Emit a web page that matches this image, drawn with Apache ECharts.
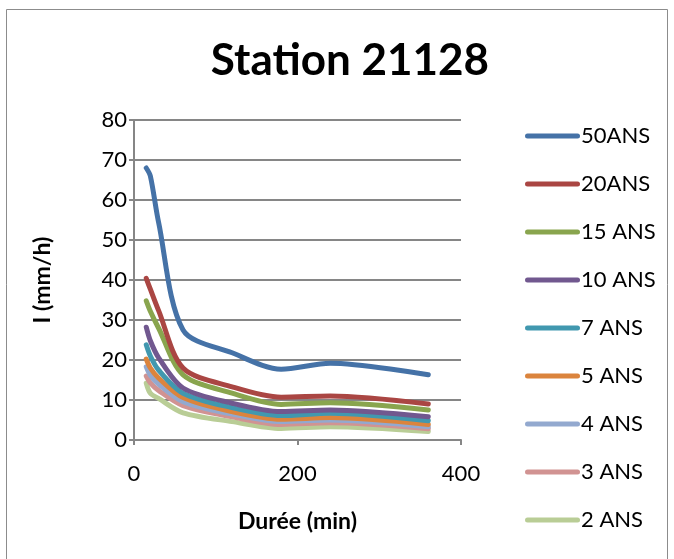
<!DOCTYPE html>
<html>
<head>
<meta charset="utf-8">
<script src="https://cdn.jsdelivr.net/npm/echarts@6/dist/echarts.min.js"></script>
<style>
html,body{margin:0;padding:0;background:#fff;}
#c{width:674px;height:559px;}
</style>
</head>
<body>
<div id="c"></div>
<script>
const durations = [15, 20, 30, 60, 120, 180, 240, 360];
const seriesNames = ['50ANS', '20ANS', '15 ANS', '10 ANS', '7 ANS', '5 ANS', '4 ANS', '3 ANS', '2 ANS'];
const s50 = [68.0, 66.0, 54.5, 27.5, 21.8, 17.7, 19.2, 16.3];
const s20 = [40.4, 37.7, 32.4, 18.0, 13.3, 10.7, 11.0, 9.0];
const s15 = [34.8, 32.2, 28.0, 16.3, 11.7, 8.9, 9.3, 7.5];
const s10 = [28.2, 24.8, 20.6, 13.0, 9.2, 7.1, 7.5, 5.8];
const s7 = [23.8, 21.0, 17.5, 11.7, 8.1, 6.1, 6.7, 4.8];
const s5 = [20.2, 18.0, 15.5, 10.6, 7.1, 5.2, 5.6, 3.9];
const s4 = [18.3, 16.2, 14.0, 9.6, 6.5, 4.6, 5.0, 3.3];
const s3 = [16.0, 14.3, 12.4, 8.6, 5.8, 3.9, 4.3, 2.8];
const s2 = [14.2, 11.7, 10.4, 6.8, 4.6, 2.9, 3.3, 2.1];
const xTicks = [0, 200, 400];
const yTicks = [0, 10, 20, 30, 40, 50, 60, 70, 80];

const allValues = [s50, s20, s15, s10, s7, s5, s4, s3, s2];
const colors = ['#4572A7', '#AA4643', '#89A54E', '#71588F', '#4198AF', '#DB843D', '#93A9CF', '#D19392', '#B9CD96'];
const FONT = 'Lato, "Open Sans", sans-serif';

const chart = echarts.init(document.getElementById('c'), null, {renderer: 'canvas'});
chart.setOption({
  animation: false,
  backgroundColor: '#fff',
  title: {
    text: 'Station 21128',
    left: 345, top: 34, textAlign: 'center',
    textStyle: {fontFamily: FONT, fontWeight: 'bold', fontSize: 44, color: '#000'}
  },
  graphic: [{
    type: 'rect', shape: {x: 6.5, y: 9.5, width: 661, height: 570},
    style: {fill: 'none', stroke: '#8c8c8c', lineWidth: 1}, silent: true
  }],
  legend: {
    orient: 'vertical', left: 520, top: 120, itemGap: 26,
    itemWidth: 55, itemHeight: 26,
    icon: 'path://M2.5,10.5 L52.5,10.5 A2.5,2.5 0 0 1 52.5,15.5 L2.5,15.5 A2.5,2.5 0 0 1 2.5,10.5 Z',
    textStyle: {fontFamily: FONT, fontSize: 22, color: '#000', padding: [0, 0, 0, -4]},
    data: seriesNames
  },
  grid: {left: 134, right: 213, top: 120, bottom: 119, containLabel: false},
  xAxis: {
    type: 'value', min: 0, max: 400, interval: 200,
    name: 'Durée (min)', nameLocation: 'middle', nameGap: 70,
    nameTextStyle: {fontFamily: FONT, fontWeight: 'bold', fontSize: 23, color: '#000'},
    axisLine: {show: true, lineStyle: {color: '#868686', width: 2}},
    axisTick: {show: true, length: 5, lineStyle: {color: '#868686', width: 2}},
    axisLabel: {fontFamily: FONT, fontSize: 22, color: '#000', margin: 23,
      formatter: v => xTicks.includes(v) ? String(v) : ''},
    splitLine: {show: false}
  },
  yAxis: {
    type: 'value', min: 0, max: 80, interval: 10,
    name: 'I (mm/h)', nameLocation: 'middle', nameGap: 80, nameRotate: 90,
    nameTextStyle: {fontFamily: FONT, fontWeight: 'bold', fontSize: 23, color: '#000'},
    axisLine: {show: true, lineStyle: {color: '#868686', width: 2}},
    axisTick: {show: true, length: 5, lineStyle: {color: '#868686', width: 2}},
    axisLabel: {fontFamily: FONT, fontSize: 22, color: '#000', margin: 7,
      formatter: v => yTicks.includes(v) ? String(v) : ''},
    splitLine: {show: true, lineStyle: {color: '#868686', width: 2}}
  },
  series: seriesNames.map((n, i) => ({
    name: n, type: 'line', smooth: 0.3,
    showSymbol: false, symbol: 'none', z: 10 - i,
    lineStyle: {color: colors[i], width: 5, cap: 'round', join: 'round'},
    itemStyle: {color: colors[i]},
    data: durations.map((d, k) => [d, allValues[i][k]])
  }))
});
</script>
</body>
</html>
